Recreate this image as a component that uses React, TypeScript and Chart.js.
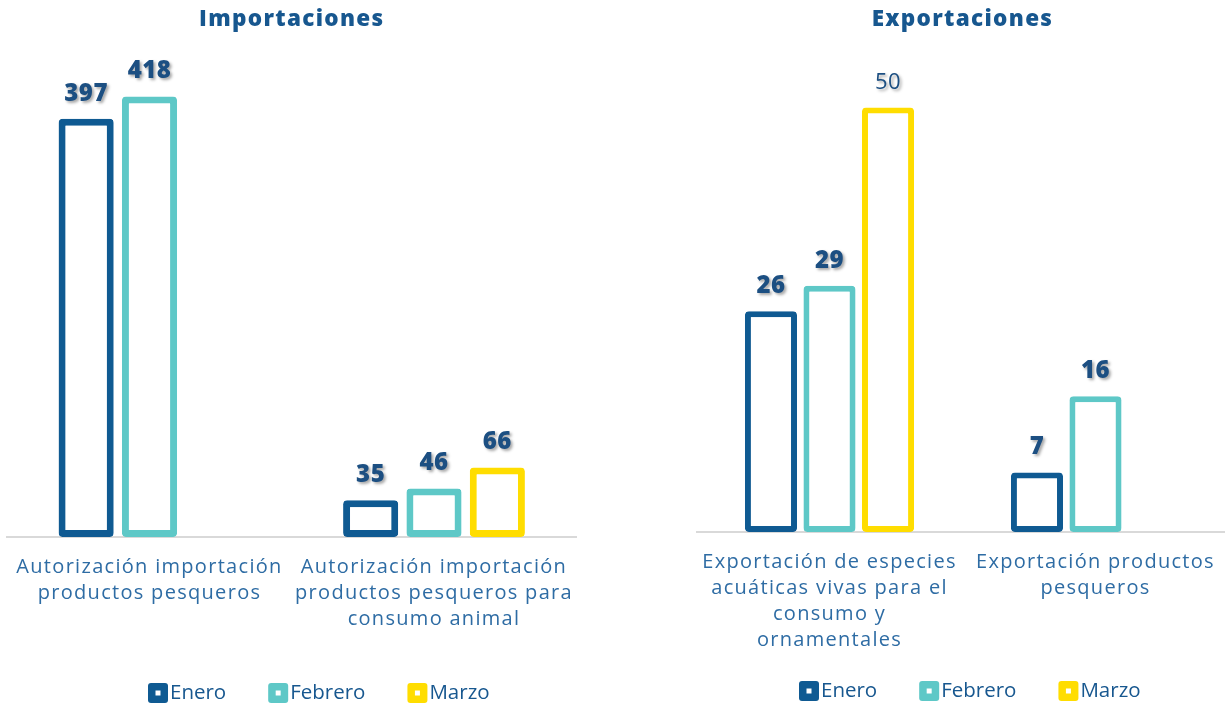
import React, { useEffect, useRef } from "react";
import { Chart, registerables } from "chart.js";
Chart.register(...registerables);

const monthNames = ["Enero", "Febrero", "Marzo"];
const monthColors = ["#0F5A92", "#5EC8C7", "#FFDD00"];

const impTitle = "Importaciones";
const impCategories = [
  ["Autorización importación", "productos pesqueros"],
  ["Autorización importación", "productos pesqueros para", "consumo animal"],
];
const impEnero = [397, 35];
const impFebrero = [418, 46];
const impMarzo: (number | null)[] = [null, 66];

const expTitle = "Exportaciones";
const expCategories = [
  ["Exportación de especies", "acuáticas vivas para el", "consumo y", "ornamentales"],
  ["Exportación productos", "pesqueros"],
];
const expEnero = [26, 7];
const expFebrero = [29, 16];
const expMarzo: (number | null)[] = [50, null];

const FONT = "'Open Sans', sans-serif";
const TITLE_COLOR = "#17578F";
const LABEL_COLOR = "#1C4F82";
const TICK_COLOR = "#2E6CA4";

const letterSpacing = {
  id: "letterSpacing",
  beforeDraw(chart: any, _args: any, opts: any) {
    (chart.ctx as any).letterSpacing = opts.value;
  },
};

const valueLabels = {
  id: "valueLabels",
  afterDatasetsDraw(chart: any, _args: any, opts: any) {
    const ctx = chart.ctx;
    chart.data.datasets.forEach((ds: any, di: number) => {
      const meta = chart.getDatasetMeta(di);
      meta.data.forEach((el: any, i: number) => {
        const v = ds.data[i];
        if (v == null) return;
        const regular = (opts.regular || []).some((r: number[]) => r[0] === di && r[1] === i);
        ctx.save();
        (ctx as any).letterSpacing = "0.5px";
        ctx.font = regular ? `400 22px ${FONT}` : `800 24px ${FONT}`;
        ctx.fillStyle = LABEL_COLOR;
        ctx.textAlign = "center";
        ctx.textBaseline = "middle";
        ctx.shadowColor = "rgba(0,0,0,0.35)";
        ctx.shadowOffsetX = 2;
        ctx.shadowOffsetY = 2;
        ctx.shadowBlur = 3;
        ctx.fillText(String(v), el.x, el.y - 25);
        ctx.restore();
      });
    });
  },
};

const boxLegend = {
  id: "boxLegend",
  afterDraw(chart: any, _args: any, opts: any) {
    const ctx = chart.ctx;
    let x = opts.x;
    const y = opts.y;
    ctx.save();
    (ctx as any).letterSpacing = "0px";
    ctx.font = `20.5px ${FONT}`;
    ctx.textBaseline = "middle";
    ctx.textAlign = "left";
    chart.data.datasets.forEach((ds: any) => {
      const s = 20;
      ctx.fillStyle = ds.borderColor;
      ctx.beginPath();
      ctx.roundRect(x, y - s / 2, s, s, 3);
      ctx.fill();
      ctx.fillStyle = "#ffffff";
      ctx.fillRect(x + s / 2 - 2.5, y - 2.5, 5, 5);
      x += s + 2;
      ctx.fillStyle = TITLE_COLOR;
      ctx.fillText(ds.label, x, y);
      x += ctx.measureText(ds.label).width + 42;
    });
    ctx.restore();
  },
};

function makeConfig(p: any): any {
  const series = [p.enero, p.febrero, p.marzo];
  return {
    type: "bar",
    data: {
      labels: p.categories,
      datasets: series.map((d, i) => ({
        label: monthNames[i],
        data: d,
        borderColor: monthColors[i],
        backgroundColor: "#ffffff",
        borderWidth: p.borderWidth,
        borderRadius: 4,
        borderSkipped: false,
        categoryPercentage: p.catPct,
        barPercentage: p.barPct,
      })),
    },
    options: {
      responsive: false,
      maintainAspectRatio: false,
      animation: false,
      layout: { padding: { left: p.padLeft, right: p.padRight, top: 0, bottom: p.padBottom } },
      plugins: {
        legend: { display: false },
        tooltip: { enabled: false },
        title: {
          display: true,
          text: p.title,
          color: TITLE_COLOR,
          font: { family: FONT, size: 22.5, weight: "800", lineHeight: 1.2 },
          padding: { top: 6.5, bottom: 31.5 },
        },
        letterSpacing: { value: "1.3px" },
        valueLabels: { regular: p.regular },
        boxLegend: { x: p.legendX, y: p.legendY },
      },
      scales: {
        x: {
          grid: { display: false, drawTicks: false },
          border: { display: true, color: "#D9D9D9", width: 2 },
          ticks: {
            color: TICK_COLOR,
            font: { family: FONT, size: 20, lineHeight: "26px" },
            padding: 17,
            maxRotation: 0,
            autoSkip: false,
          },
          afterFit: (s: any) => {
            s.height = p.axisHeight;
          },
        },
        y: { display: false, min: 0, max: p.yMax },
      },
    },
    plugins: [letterSpacing, valueLabels, boxLegend],
  };
}

function ChartCanvas(props: { cfg: any; left: number; width: number }) {
  const ref = useRef<HTMLCanvasElement>(null);
  useEffect(() => {
    if (!ref.current) return;
    const chart = new Chart(ref.current, props.cfg);
    return () => chart.destroy();
  }, []);
  return (
    <canvas
      ref={ref}
      width={props.width}
      height={706}
      style={{ position: "absolute", left: props.left, top: 0, width: props.width, height: 706 }}
    />
  );
}

export default function App() {
  const leftCfg = makeConfig({
    title: impTitle,
    categories: impCategories,
    enero: impEnero,
    febrero: impFebrero,
    marzo: impMarzo,
    yMax: 448,
    padLeft: 7.25,
    padRight: 590 - 576.25,
    padBottom: 69,
    axisHeight: 100,
    catPct: 0.668,
    barPct: 0.87,
    borderWidth: 7,
    regular: [],
    legendX: 148,
    legendY: 693,
  });
  const rightCfg = makeConfig({
    title: expTitle,
    categories: expCategories,
    enero: expEnero,
    febrero: expFebrero,
    marzo: expMarzo,
    yMax: 55,
    padLeft: 6.5,
    padRight: 1.5,
    padBottom: 49,
    axisHeight: 125,
    catPct: 0.66,
    barPct: 0.89,
    borderWidth: 6,
    regular: [[2, 0]],
    legendX: 109,
    legendY: 691,
  });
  return (
    <div
      style={{
        position: "fixed",
        left: 0,
        top: 0,
        width: 1225,
        height: 706,
        overflow: "hidden",
        background: "#ffffff",
      }}
    >
      <ChartCanvas cfg={leftCfg} left={0} width={590} />
      <ChartCanvas cfg={rightCfg} left={690} width={540} />
    </div>
  );
}
